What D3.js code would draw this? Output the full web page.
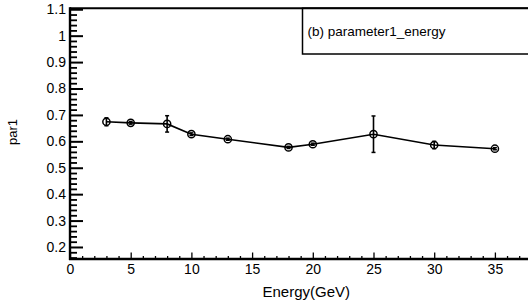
<!DOCTYPE html>
<html>
<head>
<meta charset="utf-8">
<script src="https://cdn.jsdelivr.net/npm/d3@7"></script>
<style>
  html, body { margin: 0; padding: 0; background: #fff; }
  svg { display: block; }
  text { font-family: "Liberation Sans", Arial, Helvetica, sans-serif; fill: #000; }
</style>
</head>
<body>
<svg id="chart" width="528" height="302"></svg>
<script>
// ---- data ----
const energy = [3, 5, 8, 10, 13, 18, 20, 25, 30, 35];
const par1 = [0.674, 0.670, 0.666, 0.627, 0.608, 0.577, 0.589, 0.627, 0.586, 0.572];
const par1Err = [0.015, 0.005, 0.031, 0.005, 0.004, 0.004, 0.004, 0.069, 0.014, 0.004];
const xTicks = [0, 5, 10, 15, 20, 25, 30, 35];
const yTicks = [0.2, 0.3, 0.4, 0.5, 0.6, 0.7, 0.8, 0.9, 1.0, 1.1];
const legendLabel = "(b) parameter1_energy";
const xTitle = "Energy(GeV)";
const yTitle = "par1";

// ---- layout ----
const svg = d3.select("#chart");
const x = d3.scaleLinear().domain([0, 40]).range([70, 555.6]);
const y = d3.scaleLinear().domain([0.1545, 1.104]).range([259, 8.2]);

// legend box (extends beyond the right edge, like the reference)
svg.append("rect")
  .attr("x", 302.5).attr("y", 8.2)
  .attr("width", 300).attr("height", 45.8)
  .attr("fill", "#fff").attr("stroke", "#000").attr("stroke-width", 1.5);
svg.append("text")
  .attr("x", 307.5).attr("y", 35.5)
  .attr("font-size", 13.5)
  .text(legendLabel);

// top frame line
svg.append("line")
  .attr("x1", 70).attr("x2", 600)
  .attr("y1", 8.2).attr("y2", 8.2)
  .attr("stroke", "#000").attr("stroke-width", 2);

// y axis minor ticks
const yMinor = d3.range(16, 111, 2).map(v => v / 100).filter(v => Math.round(v * 100) % 10 !== 0);
const yMinorAxis = d3.axisLeft(y).tickValues(yMinor).tickSizeInner(-7).tickSizeOuter(0).tickFormat("");
const gym = svg.append("g").attr("transform", "translate(70,0)").call(yMinorAxis);
gym.select(".domain").remove();
gym.selectAll("line").attr("stroke-width", 1.8);

// y axis major
const yAxis = d3.axisLeft(y).tickValues(yTicks).tickSizeInner(-13).tickSizeOuter(0).tickPadding(4)
  .tickFormat(d => d3.format("")(+d.toFixed(1)));
const gy = svg.append("g").attr("transform", "translate(70,0)").call(yAxis);
gy.select(".domain").remove();
gy.selectAll("line").attr("stroke-width", 2);
gy.selectAll("text").attr("font-size", 14).attr("font-family", '"Liberation Sans", Arial, sans-serif');

// x axis minor ticks
const xMinor = d3.range(0, 41, 1).filter(v => v % 5 !== 0);
const xMinorAxis = d3.axisBottom(x).tickValues(xMinor).tickSizeInner(-3).tickSizeOuter(0).tickFormat("");
const gxm = svg.append("g").attr("transform", "translate(0,259)").call(xMinorAxis);
gxm.select(".domain").remove();
gxm.selectAll("line").attr("stroke-width", 1.3);

// x axis major
const xAxis = d3.axisBottom(x).tickValues(xTicks).tickSizeInner(-6.5).tickSizeOuter(0).tickPadding(5);
const gx = svg.append("g").attr("transform", "translate(0,259)").call(xAxis);
gx.select(".domain").remove();
gx.selectAll("line").attr("stroke-width", 1.3);
gx.selectAll("text").attr("font-size", 14).attr("font-family", '"Liberation Sans", Arial, sans-serif');

// axis lines
svg.append("line").attr("x1", 70).attr("x2", 70).attr("y1", 7.2).attr("y2", 260)
  .attr("stroke", "#000").attr("stroke-width", 2.4);
svg.append("line").attr("x1", 69).attr("x2", 600).attr("y1", 259).attr("y2", 259)
  .attr("stroke", "#000").attr("stroke-width", 2.4);

// titles
svg.append("text")
  .attr("x", 350).attr("y", 297)
  .attr("text-anchor", "end")
  .attr("font-size", 15)
  .text(xTitle);
svg.append("text")
  .attr("transform", "translate(17,145) rotate(-90)")
  .attr("text-anchor", "start")
  .attr("font-size", 13)
  .text(yTitle);

// data
const pts = energy.map((e, i) => ({ x: e, y: par1[i], err: par1Err[i] }));

svg.append("path")
  .datum(pts)
  .attr("fill", "none").attr("stroke", "#000").attr("stroke-width", 1.6)
  .attr("d", d3.line().x(d => x(d.x)).y(d => y(d.y)));

const eb = svg.append("g").selectAll("g").data(pts).join("g");
eb.append("line")
  .attr("x1", d => x(d.x)).attr("x2", d => x(d.x))
  .attr("y1", d => y(d.y - d.err)).attr("y2", d => y(d.y + d.err))
  .attr("stroke", "#000").attr("stroke-width", 1.6);
eb.append("line")
  .attr("x1", d => x(d.x) - 2).attr("x2", d => x(d.x) + 2)
  .attr("y1", d => y(d.y - d.err)).attr("y2", d => y(d.y - d.err))
  .attr("stroke", "#000").attr("stroke-width", 1.5);
eb.append("line")
  .attr("x1", d => x(d.x) - 2).attr("x2", d => x(d.x) + 2)
  .attr("y1", d => y(d.y + d.err)).attr("y2", d => y(d.y + d.err))
  .attr("stroke", "#000").attr("stroke-width", 1.5);
eb.append("circle")
  .attr("cx", d => x(d.x)).attr("cy", d => y(d.y))
  .attr("r", 3.6)
  .attr("fill", "none").attr("stroke", "#000").attr("stroke-width", 1.5);
</script>
</body>
</html>
